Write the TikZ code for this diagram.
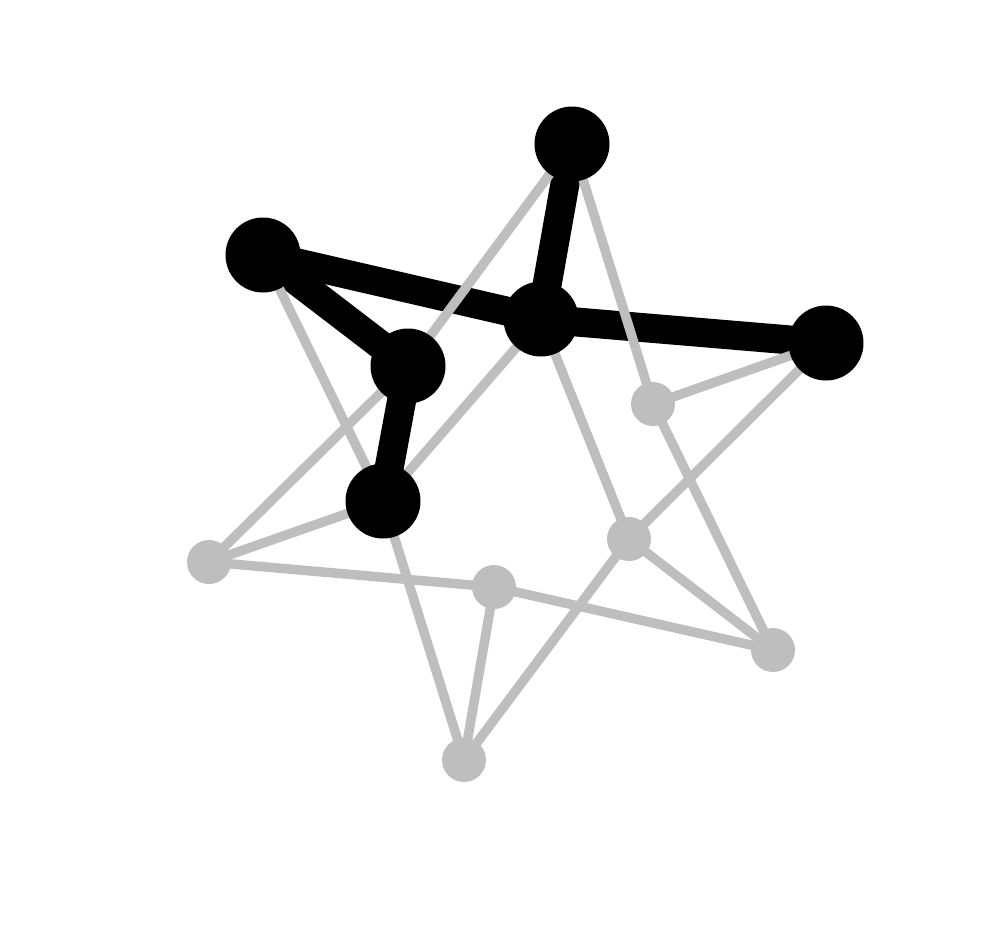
\documentclass[tikz,border=0pt]{standalone}
\usepackage{tikz}
\usetikzlibrary{backgrounds}
\definecolor{lightgrey}{RGB}{190,190,190}

\begin{document}
\begin{tikzpicture}[x=0.2mm,y=-0.2mm,
  front/.style={circle, fill=black, inner sep=0pt, minimum size=15mm},
  back/.style={circle, fill=lightgrey, inner sep=0pt, minimum size=8.8mm},
  frontedge/.style={black, line width=5.8mm},
  backedge/.style={lightgrey, line width=1.9mm}]
\useasboundingbox (0,0) rectangle (1000,926);
% front vertices
\node[front] (a) at (572,144) {};
\node[front] (b) at (263,255) {};
\node[front] (c) at (541,319) {};
\node[front] (d) at (826,343) {};
\node[front] (e) at (408,366) {};
\node[front] (f) at (383,501) {};
% back vertices
\node[back] (g) at (653,404) {};
\node[back] (h) at (629,539) {};
\node[back] (i) at (209,562) {};
\node[back] (j) at (494,587) {};
\node[back] (k) at (773,650) {};
\node[back] (l) at (464,760) {};
\begin{scope}[on background layer]
% thick edges first, thin ones over them
\draw[frontedge] (a.center) -- (c.center);
\draw[frontedge] (b.center) -- (c.center);
\draw[frontedge] (c.center) -- (d.center);
\draw[frontedge] (b.center) -- (e.center);
\draw[frontedge] (e.center) -- (f.center);
\draw[backedge] (a.center) -- (e.center);
\draw[backedge] (a.center) -- (g.center);
\draw[backedge] (b.center) -- (f.center);
\draw[backedge] (c.center) -- (f.center);
\draw[backedge] (c.center) -- (h.center);
\draw[backedge] (d.center) -- (g.center);
\draw[backedge] (d.center) -- (h.center);
\draw[backedge] (e.center) -- (i.center);
\draw[backedge] (f.center) -- (i.center);
\draw[backedge] (f.center) -- (l.center);
\draw[backedge] (g.center) -- (k.center);
\draw[backedge] (h.center) -- (k.center);
\draw[backedge] (h.center) -- (l.center);
\draw[backedge] (i.center) -- (j.center);
\draw[backedge] (j.center) -- (k.center);
\draw[backedge] (j.center) -- (l.center);
\end{scope}
\end{tikzpicture}
\end{document}
